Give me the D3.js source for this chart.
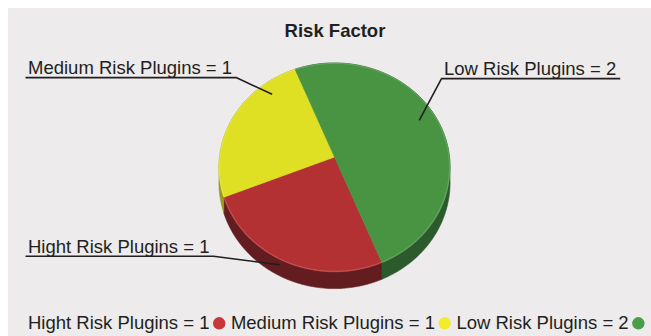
<!DOCTYPE html>
<html>
<head>
<meta charset="utf-8">
<script src="https://cdn.jsdelivr.net/npm/d3@7"></script>
<style>
  html, body { margin: 0; padding: 0; background: #ffffff; }
  svg { display: block; }
  text { font-family: "Liberation Sans", Arial, Helvetica, sans-serif; fill: #231f20; }
</style>
</head>
<body>
<svg id="chart" width="651" height="336"></svg>
<script>
// Plugin counts by risk level
const categories = ["Hight Risk Plugins", "Medium Risk Plugins", "Low Risk Plugins"];
const values = [1, 1, 2];
const topColors = ["#b33033", "#dfe023", "#489443"];
const sideColors = ["#631d20", "#9a991f", "#2c5a2c"];
const title = "Risk Factor";

// Layout of the tilted pie
const W = 651, H = 336;
const cx = 334.5, cy = 157;        // apex of the slices
const RX = 115, RY = 103.4;        // radii of the top face
const persp = 0.1;                 // near edge drawn slightly larger
const depth = 15;                  // thickness of the pie
const startDeg = 158;

// Where each slice's callout touches it: fraction through the slice, radius, height
const calloutSpots = [
  { frac: 0.53, r: 1.0, h: 5 },
  { frac: 0.78, r: 0.866, h: 0 },
  { frac: 0.48, r: 0.847, h: 0 }
];
// Callout text placement: x, baseline, and which end of the underline the leader leaves from
const calloutText = [
  { x: 28, y: 252.7, side: "right" },
  { x: 28, y: 74, side: "right" },
  { x: 444, y: 75, side: "left" }
];

const svg = d3.select("#chart");

svg.append("rect")
  .attr("x", 8).attr("y", 8)
  .attr("width", W - 8).attr("height", H - 8)
  .attr("fill", "#edebec");

function project(theta, r, h) {
  const X = r * Math.sin(theta), Z = -r * Math.cos(theta);
  const s = 1 / (1 - persp * Z);
  return [cx + RX * X * s, cy + RY * Z * s + h * s];
}

function arcPoints(a0, a1, r, h) {
  const n = Math.max(8, Math.ceil(Math.abs(a1 - a0) / (Math.PI / 180)));
  return d3.range(n + 1).map(i => project(a0 + (a1 - a0) * i / n, r, h));
}

const data = categories.map((c, i) => ({ name: c, value: values[i], i }));
const start = startDeg * Math.PI / 180;
const arcs = d3.pie().sort(null).value(d => d.value)
  .startAngle(start).endAngle(start + 2 * Math.PI)(data);

const line = d3.line();
const g = svg.append("g");

// sides first, then top faces over them
g.selectAll("path.side").data(arcs).join("path")
  .attr("class", "side")
  .attr("d", d => {
    const topArc = arcPoints(d.startAngle, d.endAngle, 1, 0);
    const botArc = arcPoints(d.startAngle, d.endAngle, 1, depth).reverse();
    return line(topArc.concat(botArc)) + "Z";
  })
  .attr("fill", d => sideColors[d.data.i])
  .attr("stroke", d => sideColors[d.data.i])
  .attr("stroke-width", 0.6);

g.selectAll("path.top").data(arcs).join("path")
  .attr("class", "top")
  .attr("d", d => line([project(0, 0, 0)].concat(arcPoints(d.startAngle, d.endAngle, 1, 0))) + "Z")
  .attr("fill", d => topColors[d.data.i])
  .attr("stroke", d => topColors[d.data.i])
  .attr("stroke-width", 0.6);

// faint light rim on the top face
g.selectAll("path.rim").data(arcs).join("path")
  .attr("class", "rim")
  .attr("d", d => line(arcPoints(d.startAngle, d.endAngle, 0.995, 0)))
  .attr("fill", "none")
  .attr("stroke", "rgba(255,255,255,0.22)")
  .attr("stroke-width", 0.8);

// Title
svg.append("text")
  .attr("x", 335).attr("y", 37.3)
  .attr("text-anchor", "middle")
  .style("font-size", "18.5px")
  .style("font-weight", "bold")
  .text(title);

// Callouts with underline and leader
const callouts = svg.append("g");
arcs.forEach(d => {
  const i = d.data.i;
  const spot = calloutSpots[i];
  const pos = calloutText[i];
  const anchor = project(d.startAngle + (d.endAngle - d.startAngle) * spot.frac, spot.r, spot.h);
  const t = callouts.append("text")
    .attr("x", pos.x).attr("y", pos.y)
    .style("font-size", "18.5px")
    .text(`${d.data.name} = ${d.data.value}`);
  const tw = t.node().getComputedTextLength();
  const uy = pos.y + 3.6;
  const ux0 = pos.x - 2.5, ux1 = pos.x + tw + 4;
  const from = pos.side === "right" ? [ux1, uy] : [ux0, uy];
  const pts = pos.side === "right"
    ? [[ux0, uy], [ux1, uy], anchor]
    : [[ux1, uy], [ux0, uy], anchor];
  callouts.append("path")
    .attr("d", line(pts))
    .attr("fill", "none")
    .attr("stroke", "#231f20")
    .attr("stroke-width", 1.6)
    .attr("stroke-linejoin", "round");
});

// Legend along the bottom
const legend = svg.append("g");
let lx = 28;
const ly = 329.3, dotR = 6.2;
data.forEach(d => {
  const t = legend.append("text")
    .attr("x", lx).attr("y", ly)
    .style("font-size", "18.5px")
    .text(`${d.name} = ${d.value}`);
  const tw = t.node().getComputedTextLength();
  const dx = lx + tw + 3.5 + dotR;
  legend.append("circle")
    .attr("cx", dx).attr("cy", ly - 6)
    .attr("r", dotR)
    .attr("fill", d.i === 1 ? "#f2ec2a" : (d.i === 0 ? "#c9363a" : "#4a9e47"));
  lx = dx + dotR + 5.5;
});
</script>
</body>
</html>
